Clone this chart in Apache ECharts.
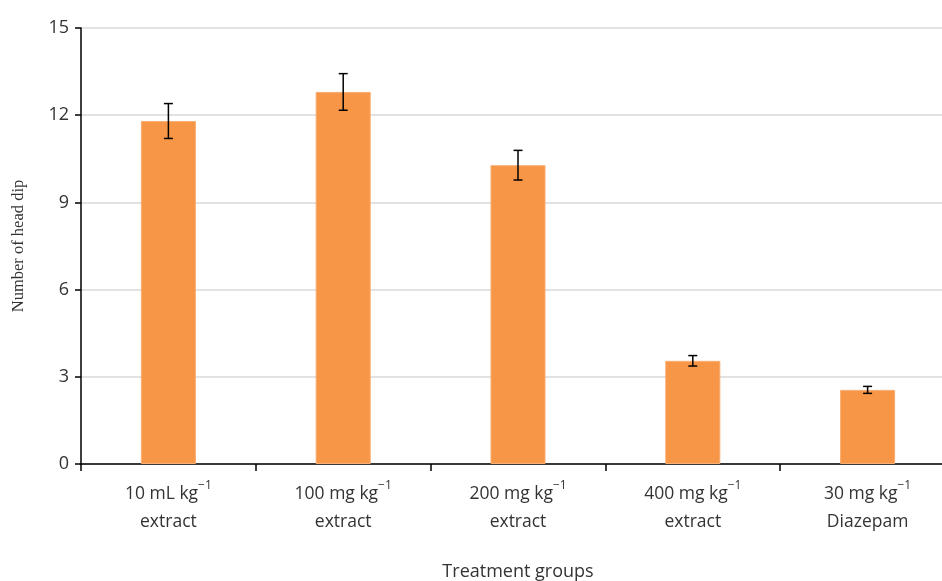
<!DOCTYPE html>
<html><head><meta charset="utf-8">
<script src="https://cdn.jsdelivr.net/npm/echarts@6/dist/echarts.min.js"></script>
<style>html,body{margin:0;padding:0;background:#fff}#c{width:942px;height:581px}</style>
</head><body><div id="c"></div>
<script>
const categories = [
  ['10 mL kg', 'extract'],
  ['100 mg kg', 'extract'],
  ['200 mg kg', 'extract'],
  ['400 mg kg', 'extract'],
  ['30 mg kg', 'Diazepam']
];
const means = [11.8, 12.8, 10.28, 3.55, 2.55];
const errors = [0.6, 0.63, 0.51, 0.18, 0.12];
const yTicks = [0, 3, 6, 9, 12, 15];

const chart = echarts.init(document.getElementById('c'));
const font = 'Open Sans';
chart.setOption({
  animation: false,
  grid: { left: 81, right: -13, top: 28, bottom: 117, containLabel: false, outerBoundsMode: 'none' },
  xAxis: {
    type: 'category',
    data: categories.map((c, i) => i),
    name: 'Treatment groups',
    nameLocation: 'middle',
    nameGap: 99,
    nameTextStyle: { fontFamily: font, fontSize: 18, color: '#333' },
    axisLine: { lineStyle: { color: '#000', width: 1.5 } },
    axisTick: { show: true, length: 7, lineStyle: { color: '#000', width: 1.5 } },
    axisLabel: {
      margin: 16,
      interval: 0,
      formatter: (v) => { const c = categories[+v]; return '{a|' + c[0] + '}{s|−1}\n{a|' + c[1] + '}'; },
      rich: {
        a: { fontFamily: font, fontSize: 17.5, color: '#333', lineHeight: 28 },
        s: { fontFamily: font, fontSize: 12, color: '#333', lineHeight: 28, verticalAlign: 'top', padding: [0, 0, 12, 0] }
      }
    }
  },
  yAxis: {
    type: 'value', min: 0, max: 15, interval: 3,
    name: 'Number of head dip',
    nameLocation: 'middle',
    nameGap: 54,
    nameTextStyle: { fontFamily: 'Liberation Serif', fontSize: 16.5, color: '#333' },
    axisLine: { show: true, lineStyle: { color: '#000', width: 1.5 } },
    axisTick: { show: true, length: 6, lineStyle: { color: '#000', width: 1.5 } },
    axisLabel: { fontFamily: font, fontSize: 18, color: '#333', margin: 12,
      formatter: (v) => yTicks.includes(v) ? String(v) : '' },
    splitLine: { lineStyle: { color: '#d9d9d9', width: 1.5 } }
  },
  series: [
    {
      type: 'bar', data: means, barWidth: '31.5%',
      itemStyle: { color: '#F79646', borderColor: '#f9ae73', borderWidth: 1 }
    },
    {
      type: 'custom',
      data: means.map((m, i) => [i, m - errors[i], m + errors[i]]),
      z: 10,
      renderItem: (params, api) => {
        const lo = api.coord([api.value(0), api.value(1)]);
        const hi = api.coord([api.value(0), api.value(2)]);
        const w = 4.5;
        const st = { stroke: '#000', lineWidth: 1.5 };
        return { type: 'group', children: [
          { type: 'line', shape: { x1: lo[0], y1: lo[1], x2: hi[0], y2: hi[1] }, style: st },
          { type: 'line', shape: { x1: hi[0] - w, y1: hi[1], x2: hi[0] + w, y2: hi[1] }, style: st },
          { type: 'line', shape: { x1: lo[0] - w, y1: lo[1], x2: lo[0] + w, y2: lo[1] }, style: st }
        ] };
      }
    }
  ]
});
</script></body></html>
